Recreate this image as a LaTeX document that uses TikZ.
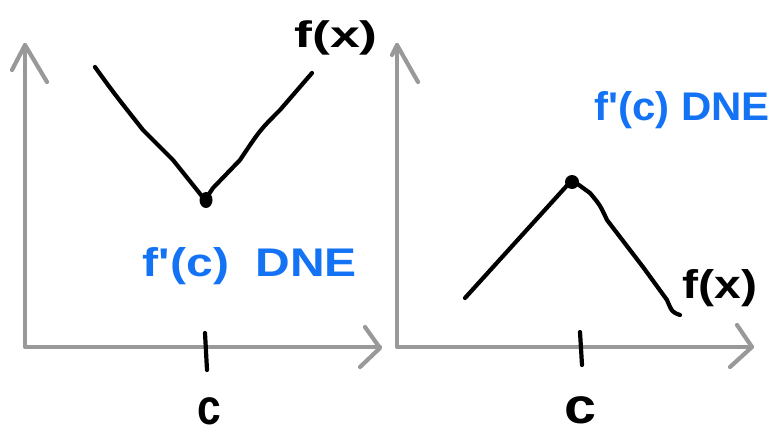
\documentclass[tikz,border=0pt]{standalone}
\usepackage{fontspec}
\setmainfont{Liberation Sans}
\definecolor{axisgray}{RGB}{153,153,153}
\definecolor{inkblue}{RGB}{20,115,245}
\tikzset{
  axisline/.style={draw=axisgray, line width=4.2pt, line cap=round, line join=round},
  curveline/.style={draw=black, line width=4.2pt, line cap=round, line join=round},
  tickline/.style={draw=black, line width=4.2pt, line cap=round},
  bluetext/.style={text=inkblue, inner sep=0pt, font=\bfseries},
  blacktext/.style={text=black, inner sep=0pt, font=\bfseries},
}
\newcommand{\primetick}{\textquotesingle}
\begin{document}
\begin{tikzpicture}[x=1pt, y=-1pt]
\useasboundingbox (0,0) rectangle (778,434);
% ---------- left panel ----------
\draw[axisline] (25,45) -- (25,347) -- (380,347);
\draw[axisline] (12,70) -- (25,45) -- (47,82);
\draw[axisline] (365,327) -- (380,348) -- (360,367);
\draw[curveline] (95,67) .. controls (113,92) .. (143,130) -- (173,160) -- (205,200)
  -- (213,188) -- (240,160) .. controls (260,130) .. (280,110) -- (312,73);
\fill (206,200) ellipse (6.5pt and 8pt);
\draw[tickline] (205,333) -- (207,370);
\node[blacktext] (fxL) at (336,38) {\fontsize{37}{40}\selectfont\scalebox{1.45}[1]{f(x)}};
\node[bluetext] (dneL) at (250,266) {\fontsize{40}{44}\selectfont\scalebox{1.2}[1]{f\primetick(c)\ \ DNE}};
\node[blacktext] (cL) at (209,411) {\fontsize{50}{52}\selectfont\scalebox{0.85}[1]{c}};
% ---------- right panel ----------
\draw[axisline] (397,45) -- (397,347) -- (752,347);
\draw[axisline] (392,55) -- (397,45) -- (418,82);
\draw[axisline] (737,325) -- (752,347) -- (730,367);
\draw[curveline] (465,298) -- (572,180) -- (590,193) .. controls (600,205) .. (607,220)
  -- (643,267) -- (667,300) .. controls (672,312) .. (680,315);
\fill (572,182) ellipse (7pt and 7pt);
\draw[tickline] (580,332) -- (582,365);
\node[blacktext] (fxR) at (720,288) {\fontsize{40}{44}\selectfont\scalebox{1.2}[1]{f(x)}};
\node[bluetext] (dneR) at (682,110) {\fontsize{40}{44}\selectfont\scalebox{1.05}[1]{f\primetick(c) DNE}};
\node[blacktext] (cR) at (580,410) {\fontsize{50}{52}\selectfont\scalebox{1.15}[1]{c}};
\end{tikzpicture}
\end{document}
